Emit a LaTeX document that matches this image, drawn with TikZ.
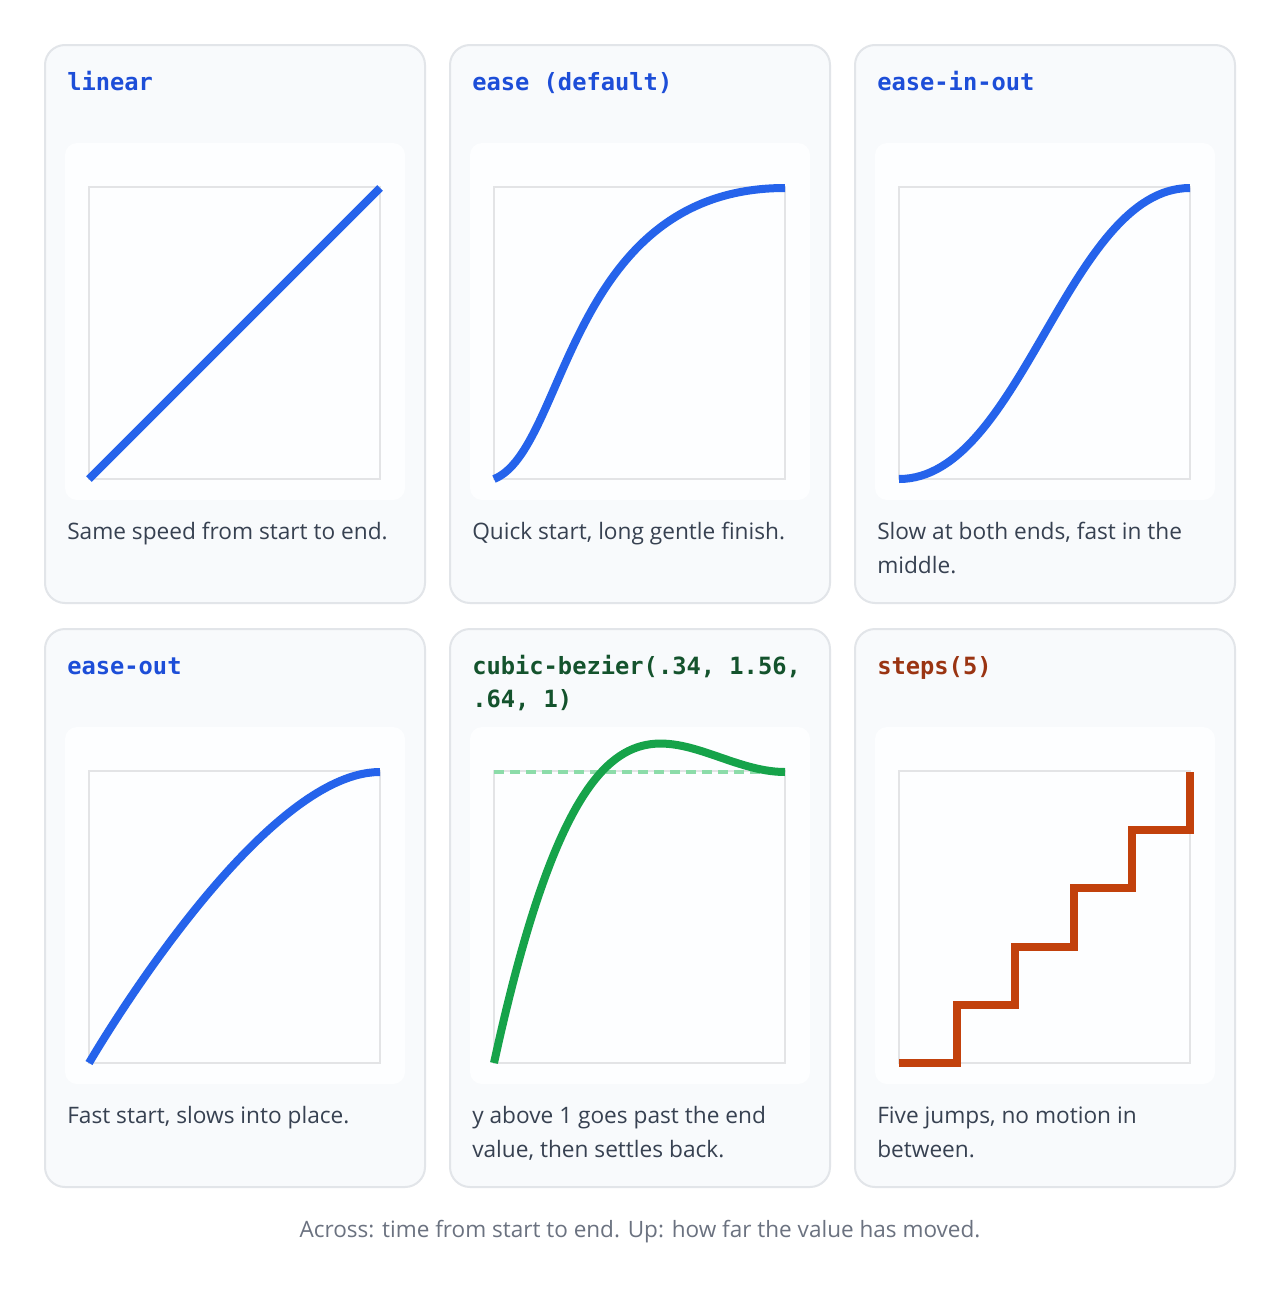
\documentclass[tikz,border=0pt]{standalone}
\usepackage{fontspec}
\setmainfont{Open Sans}
\newfontfamily\codefont{DejaVu Sans Mono}
\definecolor{cardfill}{HTML}{F8FAFC}
\definecolor{cardline}{HTML}{E2E5E9}
\definecolor{panelfill}{HTML}{FDFEFF}
\definecolor{boxline}{HTML}{E3E4E6}
\definecolor{captext}{HTML}{374151}
\definecolor{foottext}{HTML}{6B7280}
\definecolor{easeblue}{HTML}{2563EB}
\definecolor{titleblue}{HTML}{1D4ED8}
\definecolor{easegreen}{HTML}{16A34A}
\definecolor{titlegreen}{HTML}{14532D}
\definecolor{dashgreen}{HTML}{8CDCA9}
\definecolor{easeorange}{HTML}{C2410C}
\definecolor{titleorange}{HTML}{9A3412}

\begin{document}
\begin{tikzpicture}[x=0.75pt, y=-0.75pt,
    card/.style={draw=cardline, line width=1.5pt, fill=cardfill, rounded corners=15pt},
    panel/.style={fill=panelfill, rounded corners=9pt},
    plotbox/.style={draw=boxline, line width=1.6pt},
    curve/.style={line width=6pt},
    title/.style={anchor=base west, inner sep=0pt, align=left, font=\codefont\bfseries\fontsize{17.8}{24.75}\selectfont},
    caption/.style={anchor=base west, inner sep=0pt, align=left, text=captext, font=\fontsize{17}{25.5}\selectfont}]
  \useasboundingbox (0,0) rectangle (1280,1292);
  \fill[white] (0,0) rectangle (1280,1292);
  % the six cards (\tl, \cl = extra lines in title and caption)
  \foreach \c/\r/\n/\T/\C/\tl/\D/\cl in {
      0/0/lin/linear/titleblue/0/{Same speed from start to end.}/0,
      1/0/ease/ease (default)/titleblue/0/{Quick start, long gentle finish.}/0,
      2/0/inout/ease-in-out/titleblue/0/{Slow at both ends, fast in the\\middle.}/1,
      0/1/out/ease-out/titleblue/0/{Fast start, slows into place.}/0,
      1/1/bez/{cubic-bezier(.34, 1.56,\\.64, 1)}/titlegreen/1/{y above 1 goes past the end\\value, then settles back.}/1,
      2/1/steps/steps(5)/titleorange/0/{Five jumps, no motion in\\between.}/1}
  {
    \pgfmathsetmacro{\x}{45+405*\c}
    \pgfmathsetmacro{\y}{45+584*\r}
    \draw[card] (\x,\y) rectangle ++(380,558);
    \fill[panel] (\x+20,\y+98) rectangle ++(340,357);
    \draw[plotbox] (\x+44,\y+142) rectangle ++(291,292);
    \node[title, text=\C] (title-\n) at (\x+22,\y+45+33*\tl) {\T};
    \node[caption] (cap-\n) at (\x+22,\y+494+34*\cl) {\D};
  }
  % curves, unit square = plot box
  \begin{scope}[shift={(89,479)}, x=218.25pt, y=218.25pt]
    \draw[curve, easeblue] (0,0) -- (1,1);
  \end{scope}
  \begin{scope}[shift={(494,479)}, x=218.25pt, y=218.25pt]
    \draw[curve, easeblue] (0,0) .. controls (.25,.1) and (.25,1) .. (1,1);
  \end{scope}
  \begin{scope}[shift={(899,479)}, x=218.25pt, y=218.25pt]
    \draw[curve, easeblue] (0,0) .. controls (.42,0) and (.58,1) .. (1,1);
  \end{scope}
  \begin{scope}[shift={(89,1063)}, x=218.25pt, y=218.25pt]
    \draw[curve, easeblue] (0,0) .. controls (0,0) and (.58,1) .. (1,1);
  \end{scope}
  \begin{scope}[shift={(494,1063)}, x=218.25pt, y=218.25pt]
    \draw[dashgreen, line width=2.4pt, dash pattern=on 7.5pt off 4.5pt] (0,1) -- (1,1);
    \draw[curve, easegreen] (0,0) .. controls (.34,1.56) and (.64,1) .. (1,1);
  \end{scope}
  \begin{scope}[shift={(899,1063)}, x=218.25pt, y=218.25pt]
    \draw[curve, easeorange, line join=miter]
      (0,0) -| (.2,.2) -| (.4,.4) -| (.6,.6) -| (.8,.8) -| (1,1);
  \end{scope}
  \node[anchor=base, inner sep=0pt, text=foottext, font=\fontsize{16.9}{20}\selectfont]
    (footer) at (640,1237) {Across: time from start to end. Up: how far the value has moved.};
\end{tikzpicture}
\end{document}
